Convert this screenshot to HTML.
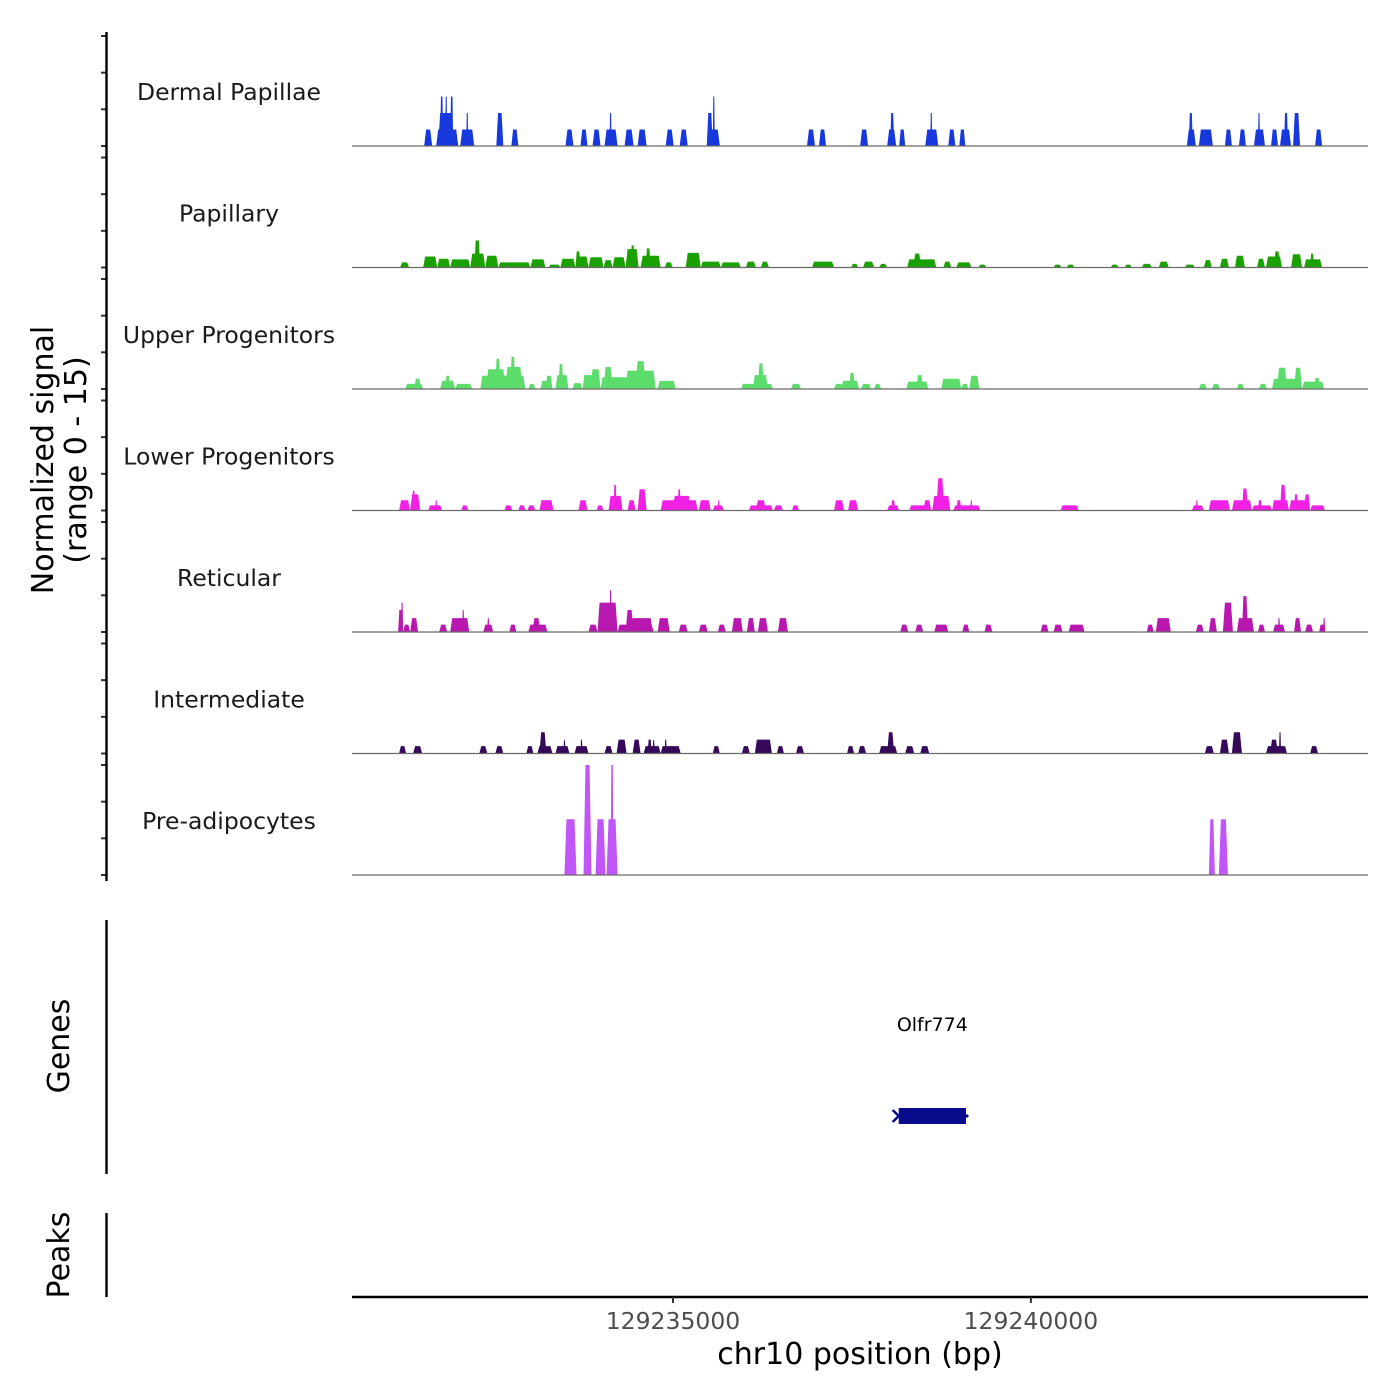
<!DOCTYPE html>
<html><head><meta charset="utf-8"><style>
html,body{margin:0;padding:0;background:#fff;}
svg{display:block;font-family:"DejaVu Sans","Liberation Sans",sans-serif;}
</style></head><body>
<svg id="chart" width="1400" height="1400" viewBox="0 0 1400 1400" xmlns="http://www.w3.org/2000/svg">
<g id="tracks"></g>
<g id="axes"></g>
</svg>
<script>
const regionStart = 129230516;
const regionEnd = 129244709;
const xTickValues = [129235000, 129240000];
const xTickLabels = ["129235000", "129240000"];
const trackNames = ["Dermal Papillae","Papillary","Upper Progenitors","Lower Progenitors","Reticular","Intermediate","Pre-adipocytes"];
const trackColors = ["#1638dc","#1aa100","#5cdc6a","#f020e4","#b818b0","#36085a","#c055f8"];
const yTickValues = [0,5,10,15];
// blocks: [startOffsetBp, endOffsetBp, signal]
const dermalPapillae = [[1008,1120,2.25],[1176,1484,2.25],[1204,1414,4.5],[1232,1274,6.75],[1302,1330,6.75],[1372,1414,6.75],[1512,1708,2.25],[1596,1624,4.5],[2016,2114,4.5],[2226,2324,2.25],[2982,3094,2.25],[3192,3290,2.25],[3360,3472,2.25],[3528,3710,2.25],[3598,3626,4.5],[3808,3934,2.25],[3990,4116,2.25],[4382,4494,2.25],[4578,4690,2.25],[4956,5138,2.25],[4956,5040,4.5],[5040,5068,6.75],[6356,6468,2.25],[6524,6622,2.25],[7098,7210,2.25],[7476,7602,2.25],[7518,7574,4.5],[7644,7728,2.25],[8008,8190,2.25],[8078,8106,4.5],[8330,8428,2.25],[8484,8568,2.25],[11662,11788,2.25],[11690,11746,4.5],[11830,12026,2.25],[12194,12292,2.25],[12390,12488,2.25],[12600,12754,2.25],[12656,12684,4.5],[12838,12936,2.25],[12964,13118,2.25],[13020,13076,4.5],[13146,13244,4.5],[13454,13552,2.25]];
const papillary = [[672,798,0.7],[994,1190,1.5],[1190,1372,1.2],[1372,1652,1.1],[1652,1862,1.9],[1708,1792,3.7],[1862,2044,1.6],[2044,2492,0.7],[2492,2702,1.1],[2744,2912,0.4],[2912,3122,1.2],[3122,3304,1.5],[3122,3192,2.2],[3304,3514,1.4],[3514,3640,1],[3640,3822,1.4],[3822,4004,2.5],[3892,3948,3],[4032,4312,1.6],[4102,4172,2.6],[4368,4480,0.7],[4662,4872,2],[4872,5152,0.8],[5152,5432,0.7],[5502,5642,0.8],[5712,5824,0.8],[6426,6734,0.8],[6972,7070,0.5],[7140,7294,0.8],[7364,7476,0.5],[7756,8162,1.1],[7840,7952,1.9],[8260,8372,0.8],[8442,8652,0.7],[8750,8862,0.4],[9800,9912,0.4],[9982,10094,0.4],[10598,10710,0.4],[10794,10892,0.4],[11032,11172,0.5],[11270,11410,0.8],[11634,11774,0.4],[11900,12012,1],[12124,12250,1.2],[12334,12474,1.6],[12642,12754,1.2],[12768,12992,1.5],[12880,12964,2.2],[13118,13272,1.8],[13300,13552,1.1],[13384,13440,1.9]];
const upperProgenitors = [[742,994,0.7],[868,966,1.4],[1232,1442,1.1],[1302,1372,1.8],[1442,1680,0.7],[1792,2422,1.8],[1876,2142,2.7],[2002,2072,4.1],[2142,2380,3],[2212,2282,4.4],[2464,2562,0.7],[2632,2772,1.1],[2702,2800,1.8],[2842,3024,1.9],[2884,2954,3.4],[3080,3220,0.8],[3220,3472,1.9],[3332,3472,2.7],[3472,3864,1.6],[3514,3640,3],[3822,4242,2.5],[3962,4102,3.8],[4270,4522,1.1],[5432,5880,0.7],[5600,5810,1.9],[5670,5754,3.5],[6132,6272,0.7],[6734,6860,0.7],[6832,7084,1.1],[6944,7028,2.2],[7112,7252,0.7],[7294,7392,0.7],[7742,8050,1],[7882,7980,1.9],[8232,8512,1.4],[8512,8610,0.7],[8624,8764,1.8],[11830,11942,0.7],[12012,12124,0.7],[12362,12460,0.7],[12670,12782,0.7],[12852,13272,1.4],[12922,13062,2.9],[13160,13272,2.9],[13272,13580,1],[13440,13524,1.5]];
const lowerProgenitors = [[658,812,1.4],[812,952,2.2],[840,882,2.7],[1064,1260,0.7],[1162,1190,1.4],[1526,1624,0.7],[2128,2240,0.7],[2324,2422,0.7],[2450,2562,0.7],[2618,2814,1.4],[3164,3290,1.4],[3416,3514,0.7],[3584,3780,2],[3654,3696,3.5],[3850,3962,1.4],[3990,4116,2.9],[4312,4830,1.4],[4480,4732,2],[4550,4592,2.9],[4844,5012,1.4],[5040,5194,0.7],[5110,5138,1.4],[5544,5880,0.7],[5642,5782,1.4],[5894,6020,0.7],[6146,6244,0.7],[6734,6874,1.4],[6930,7070,1.4],[7476,7644,0.7],[7532,7588,1.4],[7784,8092,0.7],[7980,8092,1.4],[8106,8358,2],[8162,8274,4.4],[8400,8778,0.7],[8442,8512,1.4],[8638,8666,1.4],[9898,10150,0.7],[11732,11900,0.7],[11788,11816,1.4],[11970,12264,1.4],[12292,12572,1.4],[12432,12516,3],[12572,12852,0.7],[12656,12712,1.4],[12852,13090,1.4],[12964,13048,3.5],[13090,13384,1.4],[13160,13216,2.2],[13300,13384,2.2],[13384,13594,0.7]];
const reticular = [[644,714,3],[686,714,4],[714,812,1],[812,924,1.9],[1218,1330,1],[1372,1638,1.9],[1540,1568,3],[1834,1974,1],[1890,1918,1.9],[2198,2296,1],[2464,2730,1],[2520,2632,1.9],[3304,3430,1],[3430,3710,4],[3598,3626,5.7],[3710,4214,1],[3822,3934,3],[3892,4200,1.9],[4270,4438,1.9],[4564,4690,1],[4844,4970,1],[5110,5222,1],[5306,5460,1.9],[5516,5628,1.9],[5670,5810,1.9],[5950,6090,1.9],[7658,7770,1],[7868,7980,1],[8134,8330,1],[8526,8624,1],[8834,8946,1],[9618,9730,1],[9800,9926,1],[10010,10234,1],[11102,11200,1],[11228,11438,1.9],[11788,11900,1],[11970,12082,1.9],[12166,12306,4],[12362,12600,1.9],[12432,12516,4.9],[12656,12754,1],[12866,13034,1],[12936,12964,1.9],[13160,13258,1.9],[13314,13426,1],[13510,13594,1],[13566,13594,1.9]];
const intermediate = [[658,756,1],[854,980,1],[1778,1890,1],[2002,2114,1],[2436,2534,1],[2590,2800,1],[2618,2716,2.9],[2842,3038,1],[2954,2982,1.8],[3108,3304,1],[3192,3220,1.9],[3528,3640,1],[3696,3836,1.9],[3920,4032,1.9],[4074,4312,1],[4130,4186,1.9],[4200,4228,1.8],[4312,4592,1],[4368,4396,1.9],[5040,5138,1],[5446,5558,1],[5628,5866,1.9],[5936,6034,1],[6202,6314,1],[6916,7014,1],[7070,7182,1],[7364,7616,1],[7476,7574,2.9],[7728,7854,1],[7938,8064,1],[11914,12040,1],[12124,12250,1.9],[12292,12432,2.9],[12768,13062,1],[12824,12936,1.9],[12950,12978,2.9],[13384,13496,1]];
const preAdipocytes = [[2968,3136,7.6],[3234,3346,15],[3402,3542,7.6],[3556,3710,7.6],[3612,3654,15],[11970,12054,7.6],[12110,12236,7.6]];
const trackData = [dermalPapillae, papillary, upperProgenitors, lowerProgenitors, reticular, intermediate, preAdipocytes];
const geneName = "Olfr774";
const geneStart = 129238153;
const geneEnd = 129239093;

const NS = "http://www.w3.org/2000/svg";
const X0 = 352, X1 = 1368;
const firstBase = 146, trackStep = 121.5, trackH = 110, yMax = 15;
function xs(bp){ return X0 + (bp - regionStart) / (regionEnd - regionStart) * (X1 - X0); }
function xo(off){ return xs(regionStart + off); }
function ys(i, v){ return firstBase + i*trackStep - v / yMax * trackH; }
function mk(tag, attrs, parent){ const e = document.createElementNS(NS, tag); for (const k in attrs) e.setAttribute(k, attrs[k]); parent.appendChild(e); return e; }

const tg = document.getElementById('tracks');
const ag = document.getElementById('axes');
trackData.forEach((blocks, i) => {
  const g = mk('g', {}, tg);
  
  
  const base = ys(i, 0);
  blocks.forEach(b => {
    const a = xo(b[0]), c = xo(b[1]), top = ys(i, b[2]);
    const s = Math.min(2, (c - a) / 4);
    const p = mk('polygon', {points: `${a},${base} ${a+s},${top} ${c-s},${top} ${c},${base}`, fill: trackColors[i]}, g);
    
    
  });
  const bl = mk('line', {x1: X0, x2: X1, y1: base, y2: base, stroke: '#6b6b6b', 'stroke-width': 1.2}, g);
  
  
  const lab = mk('text', {x: 229, y: base - 46, 'text-anchor': 'middle', 'font-size': 23.5, fill: '#1a1a1a'}, g);
  lab.textContent = trackNames[i];
  
  
  yTickValues.forEach(t => {
    const tk = mk('line', {x1: 101, x2: 106, y1: ys(i, t), y2: ys(i, t), stroke: '#333', 'stroke-width': 2}, ag);
    
    
  });
});
// left y axis
const yl = mk('line', {x1: 106.5, x2: 106.5, y1: 32, y2: 881, stroke: '#000', 'stroke-width': 2.4}, ag);


const yt = mk('text', {transform: 'translate(53,460) rotate(-90)', 'text-anchor': 'middle', 'font-size': 30, fill: '#000'}, ag);


const ts1 = mk('tspan', {x: 0, dy: 0}, yt); ts1.textContent = 'Normalized signal';
const ts2 = mk('tspan', {x: 0, dy: 33}, yt); ts2.textContent = '(range 0 - 15)';

// genes panel
const gl = mk('line', {x1: 106.5, x2: 106.5, y1: 920, y2: 1174, stroke: '#000', 'stroke-width': 2.4}, ag);


const gt = mk('text', {transform: 'translate(69,1046) rotate(-90)', 'text-anchor': 'middle', 'font-size': 30, fill: '#000'}, ag);
gt.textContent = 'Genes';


const gs = xs(geneStart), ge = xs(geneEnd);
const gr = mk('rect', {x: gs, y: 1108, width: ge - gs, height: 16, fill: '#0a0a8c'}, tg);


const ga = mk('path', {d: `M${gs-6},1110 L${gs},1116 L${gs-6},1122`, stroke: '#0a0a8c', 'stroke-width': 2.5, fill: 'none'}, tg);


const gd = mk('circle', {cx: ge + 1, cy: 1116, r: 1.6, fill: '#0a0a8c'}, tg);


const gn = mk('text', {x: (gs + ge) / 2, y: 1031, 'text-anchor': 'middle', 'font-size': 19, fill: '#000'}, tg);
gn.textContent = geneName;



// peaks panel
const pl = mk('line', {x1: 106.5, x2: 106.5, y1: 1213, y2: 1297, stroke: '#000', 'stroke-width': 2.4}, ag);


const pt = mk('text', {transform: 'translate(69,1255) rotate(-90)', 'text-anchor': 'middle', 'font-size': 30, fill: '#000'}, ag);
pt.textContent = 'Peaks';



// x axis
const xl = mk('line', {x1: X0, x2: X1, y1: 1297, y2: 1297, stroke: '#000', 'stroke-width': 2.4}, ag);


xTickValues.forEach((v, k) => {
  const tk = mk('line', {x1: xs(v), x2: xs(v), y1: 1297, y2: 1303, stroke: '#333', 'stroke-width': 2}, ag);
  
  
  const tl = mk('text', {x: xs(v), y: 1329, 'text-anchor': 'middle', 'font-size': 23.5, fill: '#4d4d4d'}, ag);
  tl.textContent = xTickLabels[k];
  
  
});
const xt = mk('text', {x: 860, y: 1364, 'text-anchor': 'middle', 'font-size': 30, fill: '#000'}, ag);
xt.textContent = 'chr10 position (bp)';


</script>
</body></html>
